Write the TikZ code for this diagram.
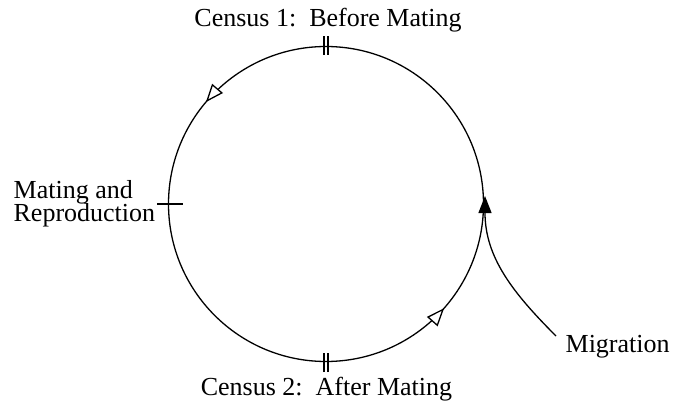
\documentclass[tikz,border=0pt]{standalone}
\usepackage{fontspec}
\setmainfont{Liberation Serif}
\usetikzlibrary{arrows.meta,decorations.markings}
\begin{document}
\begin{tikzpicture}[x=1pt,y=1pt,line width=1.3pt,
  lbl/.style={font=\fontsize{26}{21}\selectfont, inner sep=0pt}]
\useasboundingbox (0,0) rectangle (683,405);
\coordinate (C) at (326,201);
% life-cycle circle with direction arrows
\draw[postaction={decorate},decoration={markings,
    mark=at position 0.388 with {\arrow{Triangle[fill=white,length=18pt,width=14pt]}},
    mark=at position 0.885 with {\arrow{Triangle[fill=white,length=18pt,width=14pt]}}}]
  (C) circle[radius=157.5];
% census ticks
\draw (324,350) -- (324,369);
\draw (328,350) -- (328,369);
\draw (324,33) -- (324,52);
\draw (328,33) -- (328,52);
% mating tick
\draw (157,201) -- (183,201);
% labels
\node[lbl,anchor=base] (c1) at (328,378) {Census 1:\ \ Before Mating};
\node[lbl,anchor=base] (c2) at (326.5,10) {Census 2:\ \ After Mating};
\node[lbl,anchor=base west] (mr1) at (13,207) {Mating and};
\node[lbl,anchor=base west] (mr2) at (13,183) {Reproduction};
\node[lbl,anchor=base west] (mig) at (565,53) {Migration};
% migration connector
\coordinate (ms) at (556,69);
\coordinate (me) at (485,209);
\draw[-{Triangle[length=17pt,width=13pt]}] (ms) to[out=135,in=-90] (me);
\end{tikzpicture}
\end{document}
